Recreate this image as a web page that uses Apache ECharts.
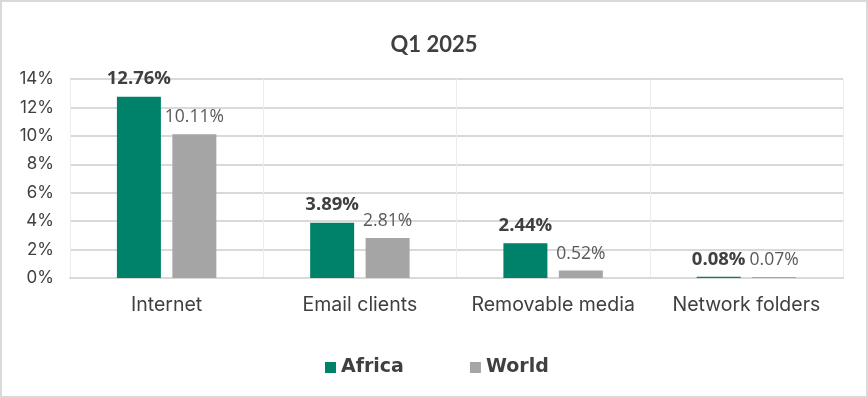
<!DOCTYPE html>
<html>
<head>
<meta charset="utf-8">
<script src="https://cdn.jsdelivr.net/npm/echarts@6/dist/echarts.min.js"></script>
<style>
  html, body { margin: 0; padding: 0; background: #fff; }
  #chart { width: 864px; height: 394px; border: 2px solid #d9d9d9; }
</style>
</head>
<body>
<div id="chart"></div>
<script>
  // data
  var categories = ['Internet', 'Email clients', 'Removable media', 'Network folders'];
  var africa = [12.76, 3.89, 2.44, 0.08];
  var world = [10.11, 2.81, 0.52, 0.07];
  var yTicks = [0, 2, 4, 6, 8, 10, 12, 14];

  var chart = echarts.init(document.getElementById('chart'));
  chart.setOption({
    animation: false,
    title: {
      text: 'Q1 2025',
      left: 'center',
      top: 27,
      textStyle: { fontFamily: 'Lato', fontWeight: 'bold', fontSize: 22, color: '#404040' }
    },
    legend: {
      bottom: 14,
      left: 318,
      itemWidth: 11,
      itemHeight: 11,
      itemGap: 66,
      icon: 'rect',
      textStyle: { fontFamily: 'DejaVu Sans', fontWeight: 'bold', fontSize: 19, color: '#404040' },
      data: ['Africa', 'World']
    },
    grid: { left: 68, right: 23, top: 77, bottom: 118 },
    xAxis: {
      type: 'category',
      data: categories,
      axisLine: { lineStyle: { color: '#d9d9d9', width: 2 } },
      axisTick: { show: false },
      splitLine: { show: true, interval: 0, lineStyle: { color: '#ececec' } },
      axisLabel: { interval: 0, fontFamily: 'Inter', fontSize: 19.5, color: '#404040', margin: 17 }
    },
    yAxis: {
      type: 'value',
      min: yTicks[0],
      max: yTicks[yTicks.length - 1],
      interval: 2,
      axisLine: { show: false },
      axisTick: { show: false },
      splitLine: { lineStyle: { color: '#d9d9d9', width: 2 } },
      axisLabel: { fontFamily: 'Inter', fontSize: 17, color: '#404040', margin: 16, formatter: '{value}%' }
    },
    series: [
      {
        name: 'Africa',
        type: 'bar',
        data: africa,
        barWidth: 44,
        barGap: '26%',
        itemStyle: { color: '#00816a' },
        label: {
          show: true, position: 'top', distance: 8,
          fontFamily: 'Open Sans', fontWeight: 'bold', fontSize: 18.5, color: '#404040',
          formatter: function (p) { return p.value.toFixed(2) + '%'; }
        }
      },
      {
        name: 'World',
        type: 'bar',
        data: world,
        barWidth: 44,
        itemStyle: { color: '#a5a5a5' },
        label: {
          show: true, position: 'top', distance: 8,
          fontFamily: 'Open Sans', fontSize: 17.5, color: '#595959',
          formatter: function (p) { return p.value.toFixed(2) + '%'; }
        }
      }
    ]
  });
</script>
</body>
</html>
